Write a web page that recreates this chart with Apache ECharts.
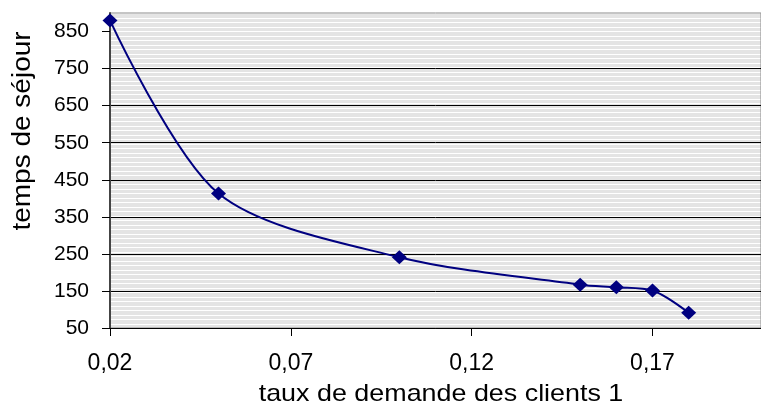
<!DOCTYPE html>
<html>
<head>
<meta charset="utf-8">
<title>temps de séjour</title>
<script src="https://cdn.jsdelivr.net/npm/echarts@6/dist/echarts.min.js"></script>
<style>
  html, body { margin: 0; padding: 0; background: #fff; }
  #chart { width: 761px; height: 407px; }
</style>
</head>
<body>
<div id="chart"></div>
<script>
  // valeurs
  const tauxDemande = [0.02, 0.05, 0.10, 0.15, 0.16, 0.17, 0.18]
  const tempsSejour = [880, 413, 241, 167, 160, 151, 91]
  const yTicks = [50, 150, 250, 350, 450, 550, 650, 750, 850]
  const xTicks = [0.02, 0.07, 0.12, 0.17]

  const FONT = '"Liberation Sans", Arial, sans-serif'

  // motif gris à rayures horizontales (fond du tracé)
  function stripes () {
    const c = document.createElement('canvas')
    c.width = 8
    c.height = 9
    const ctx = c.getContext('2d')
    ctx.fillStyle = '#e4e4e4'
    ctx.fillRect(0, 0, 8, 9)
    ctx.fillStyle = '#ffffff'
    ctx.fillRect(0, 0, 8, 1)
    ctx.fillRect(0, 4, 8, 1)
    return c
  }

  const chart = echarts.init(document.getElementById('chart'), null, {renderer: 'canvas'})

  const option = {
    animation: false,
    backgroundColor: '#fff',
    grid: {
      left: 110,
      right: -7,
      top: 13,
      bottom: 79,
      show: true,
      backgroundColor: {image: stripes(), repeat: 'repeat'},
      borderColor: '#8a8a8a',
      borderWidth: 1
    },
    xAxis: {
      type: 'value',
      min: 0.02,
      max: 0.2,
      interval: 0.05,
      axisLine: {show: true, lineStyle: {color: '#000', width: 1}},
      axisTick: {show: true, length: 8, customValues: xTicks, lineStyle: {color: '#000'}},
      axisLabel: {
        customValues: xTicks,
        margin: 24,
        color: '#000',
        fontSize: 23,
        fontFamily: FONT,
        formatter (v) {
          return v.toFixed(2).replace('.', ',')
        }
      },
      splitLine: {show: false}
    },
    yAxis: {
      type: 'value',
      min: 50,
      max: 900,
      interval: 100,
      axisLine: {show: true, lineStyle: {color: '#444', width: 2}},
      axisTick: {show: true, length: 8, customValues: yTicks, lineStyle: {color: '#000'}},
      axisLabel: {
        customValues: yTicks,
        margin: 21,
        color: '#000',
        fontSize: 21,
        fontFamily: FONT
      },
      splitLine: {
        show: true,
        showMaxLine: false,
        lineStyle: {color: '#000', width: 1}
      }
    },
    // titres des axes, un peu élargis comme dans l'original
    graphic: [{
      type: 'text',
      x: 23,
      y: 131,
      rotation: Math.PI / 2,
      scaleX: 1.12,
      style: {
        text: 'temps de séjour',
        fill: '#000',
        font: '25px ' + FONT,
        textAlign: 'center',
        textVerticalAlign: 'middle'
      }
    }, {
      type: 'text',
      x: 441,
      y: 394,
      scaleX: 1.12,
      style: {
        text: 'taux de demande des clients 1',
        fill: '#000',
        font: '24px ' + FONT,
        textAlign: 'center',
        textVerticalAlign: 'middle'
      }
    }],
    series: [{
      type: 'line',
      data: tauxDemande.map((x, i) => [x, tempsSejour[i]]),
      smooth: 0.3,
      symbol: 'diamond',
      symbolSize: [15, 14],
      showAllSymbol: true,
      clip: false,
      lineStyle: {color: '#000080', width: 2},
      itemStyle: {color: '#000080'}
    }]
  }

  chart.setOption(option)
</script>
</body>
</html>
